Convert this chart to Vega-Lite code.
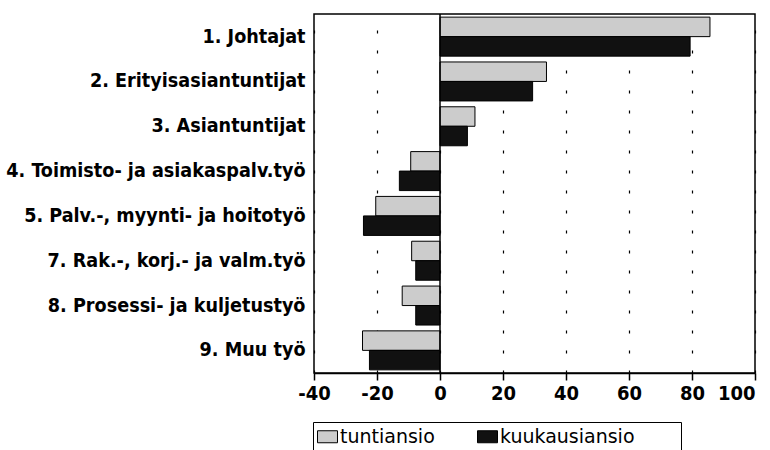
{
  "$schema": "https://vega.github.io/schema/vega-lite/v6.json",
  "width": 441,
  "height": 359,
  "autosize": {"type": "none"},
  "padding": {"left": 314, "top": 14, "right": 15, "bottom": 77},
  "background": "white",
  "config": {
    "view": {"stroke": "black", "strokeWidth": 1.5},
    "font": "DejaVu Sans Condensed, sans-serif"
  },
  "data": {
    "values": [
      {"ammatti": "1. Johtajat", "sarja": "tuntiansio", "arvo": 85.7},
      {"ammatti": "1. Johtajat", "sarja": "kuukausiansio", "arvo": 79.4},
      {"ammatti": "2. Erityisasiantuntijat", "sarja": "tuntiansio", "arvo": 33.8},
      {"ammatti": "2. Erityisasiantuntijat", "sarja": "kuukausiansio", "arvo": 29.4},
      {"ammatti": "3. Asiantuntijat", "sarja": "tuntiansio", "arvo": 11.1},
      {"ammatti": "3. Asiantuntijat", "sarja": "kuukausiansio", "arvo": 8.7},
      {"ammatti": "4. Toimisto- ja asiakaspalv.työ", "sarja": "tuntiansio", "arvo": -9.3},
      {"ammatti": "4. Toimisto- ja asiakaspalv.työ", "sarja": "kuukausiansio", "arvo": -12.9},
      {"ammatti": "5. Palv.-, myynti- ja hoitotyö", "sarja": "tuntiansio", "arvo": -20.4},
      {"ammatti": "5. Palv.-, myynti- ja hoitotyö", "sarja": "kuukausiansio", "arvo": -24.3},
      {"ammatti": "7. Rak.-, korj.- ja valm.työ", "sarja": "tuntiansio", "arvo": -9.0},
      {"ammatti": "7. Rak.-, korj.- ja valm.työ", "sarja": "kuukausiansio", "arvo": -7.7},
      {"ammatti": "8. Prosessi- ja kuljetustyö", "sarja": "tuntiansio", "arvo": -12.0},
      {"ammatti": "8. Prosessi- ja kuljetustyö", "sarja": "kuukausiansio", "arvo": -7.7},
      {"ammatti": "9. Muu työ", "sarja": "tuntiansio", "arvo": -24.6},
      {"ammatti": "9. Muu työ", "sarja": "kuukausiansio", "arvo": -22.4}
    ]
  },
  "layer": [
    {
      "mark": {"type": "bar", "stroke": "black", "strokeWidth": 1},
      "encoding": {
        "y": {
          "field": "ammatti", "type": "nominal", "sort": null,
          "scale": {"paddingInner": 0.13, "paddingOuter": 0.07},
          "axis": {"title": null, "ticks": false, "domain": false, "labelFontSize": 19.6, "labelFontWeight": "bold", "labelColor": "black", "labelPadding": 9, "labelLimit": 320}
        },
        "yOffset": {"field": "sarja", "type": "nominal", "sort": ["tuntiansio", "kuukausiansio"]},
        "x": {
          "field": "arvo", "type": "quantitative",
          "scale": {"domain": [-40, 100], "nice": false, "zero": false},
          "axis": {
            "title": null, "values": [-40, -20, 0, 20, 40, 60, 80, 100],
            "labelExpr": "datum.value < 0 ? '-' + abs(datum.value) : '' + datum.value",
            "labelFontSize": 20, "labelFontWeight": "bold", "labelColor": "black", "labelPadding": 3,
            "labelAlign": {"condition": {"test": "datum.value === 100", "value": "right"}, "value": "center"},
            "tickSize": 7, "tickColor": "black", "tickWidth": 1.5,
            "domainColor": "black", "domainWidth": 1.5,
            "grid": true, "gridColor": "black", "gridDash": [3, 17], "gridWidth": 1.2,
            "labelFlush": false
          }
        },
        "color": {
          "field": "sarja", "type": "nominal",
          "scale": {"domain": ["tuntiansio", "kuukausiansio"], "range": ["#cccccc", "#111111"]},
          "legend": {
            "title": null, "orient": "none", "direction": "horizontal",
            "legendX": -1, "legendY": 408,
            "strokeColor": "black", "padding": 4,
            "symbolType": "M-1,-0.6H1V0.6H-1Z", "symbolSize": 400, "symbolStrokeColor": "black", "symbolStrokeWidth": 1,
            "labelFontSize": 19, "labelColor": "black", "labelFont": "DejaVu Sans, sans-serif",
            "labelExpr": "datum.value === 'kuukausiansio' ? 'kuukausiansio\u2800\u2800\u2800' : datum.label",
            "labelLimit": 400,
            "columnPadding": 40, "labelOffset": 2
          }
        }
      }
    },
    {
      "data": {"values": [{"nolla": 0}]},
      "mark": {"type": "rule", "color": "black", "strokeWidth": 1.5},
      "encoding": {"x": {"field": "nolla", "type": "quantitative"}}
    }
  ]
}
